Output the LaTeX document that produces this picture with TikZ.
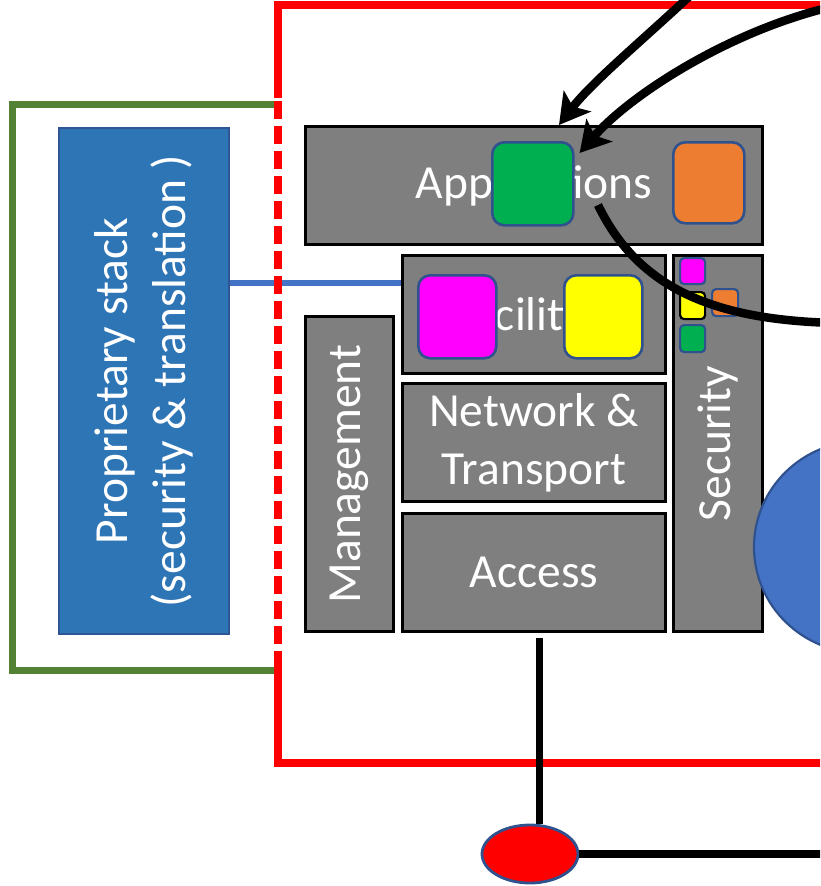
\documentclass[tikz,border=0pt]{standalone}
\usepackage{fontspec}
\setmainfont{Carlito}
\usetikzlibrary{shapes.geometric,arrows.meta}

\definecolor{layergray}{HTML}{7F7F7F}
\definecolor{propblue}{HTML}{2E75B6}
\definecolor{propedge}{HTML}{2F5597}
\definecolor{linkblue}{HTML}{4472C4}
\definecolor{framegreen}{HTML}{548235}
\definecolor{chipedge}{HTML}{2F528F}
\definecolor{chipgreen}{HTML}{00B050}
\definecolor{chiporange}{HTML}{ED7D31}
\definecolor{chipmagenta}{HTML}{FF00FF}
\definecolor{chipyellow}{HTML}{FFFF00}

\tikzset{
  bigfont/.style={font=\fontsize{47.5}{58}\selectfont},
  layer/.style={draw=black, line width=3pt, fill=layergray, text=white,
    inner sep=0pt, anchor=north west, bigfont, align=center},
  label/.style={text=white, bigfont, align=center, inner sep=0pt},
  chip/.style={draw=chipedge, line width=2.6pt, rounded corners=12pt,
    anchor=north west, inner sep=0pt},
  minichip/.style={chip, rounded corners=4pt, line width=2.2pt},
  redline/.style={draw=red, line width=7.5pt},
  flow/.style={draw=black, line width=8.5pt},
  flowtip/.style={flow, -{Stealth[length=30pt,width=34pt,inset=7pt]}},
}

\begin{document}
\begin{tikzpicture}[x=1pt,y=-1pt]
\useasboundingbox (0,0) rectangle (820,886);
\clip (0,0) rectangle (820,886);

% proprietary stack and its green enclosure
\node[draw=propedge, line width=2.2pt, fill=propblue, minimum width=170,
      minimum height=506, anchor=north west] (prop) at (58,127) {};
\node[label, rotate=90] at (prop.center)
  {Proprietary stack\\(security \& translation )};
\draw[framegreen, line width=7pt] (278,104) -- (12,104) -- (12,670) -- (278,670);

% link from proprietary stack to the facilities layer
\coordinate (tap) at (401,283);
\draw[linkblue, line width=5.5pt] (prop.east |- tap) -- (tap);

% red station boundary
\draw[redline] (278,98) -- (278,5) -- (830,5);
\draw[redline, dash pattern=on 18pt off 7pt] (278,101) -- (278,660);
\draw[redline] (278,660) -- (278,763) -- (830,763);

% layered architecture
\node[layer, minimum width=457, minimum height=118] (apps) at (304,125) {Applications};
\node[layer, minimum width=263, minimum height=118] (fac) at (401,254) {Facilities};
\node[layer, minimum width=263, minimum height=118] (net) at (401,382) {Network \&\\Transport};
\node[layer, minimum width=263, minimum height=118] (acc) at (401,512) {Access};
\node[layer, minimum width=88, minimum height=315] (mgmt) at (304,315) {};
\node[label, rotate=90] at (mgmt.center) {Management};
\node[layer, minimum width=89, minimum height=376] (sec) at (672,254) {};
\node[label, rotate=90] at (sec.center) {Security};

% application chips
\node[chip, fill=chipgreen, minimum width=81, minimum height=83] (appg) at (491,141) {};
\node[chip, fill=chiporange, minimum width=71, minimum height=81] (appo) at (672,141) {};
% facilities chips
\node[chip, fill=chipmagenta, minimum width=78, minimum height=83] (facm) at (417,274) {};
\node[chip, fill=chipyellow, minimum width=78, minimum height=83] (facy) at (563,274) {};
% security chips
\node[minichip, fill=chipmagenta, minimum width=25, minimum height=26] (secm) at (679,257) {};
\node[minichip, draw=black, fill=chipyellow, minimum width=25, minimum height=27] (secy) at (679,291) {};
\node[minichip, fill=chiporange, minimum width=26, minimum height=27] (seco) at (711,288) {};
\node[minichip, fill=chipgreen, minimum width=25, minimum height=27] (secg) at (679,324) {};

% neighbouring elements
\node[ellipse, draw=chipedge, line width=2.2pt, fill=linkblue,
      minimum width=216, minimum height=212] (peer) at (862,547) {};
\node[ellipse, draw=chipedge, line width=2.8pt, fill=red,
      minimum width=96, minimum height=58] (node) at (530,854) {};

% access to the medium
\draw[black, line width=7pt] ([xshift=5.5pt,yshift=-5pt]acc.south) -- ([xshift=5.5pt]acc.south |- node.north);
\coordinate (busend) at (830,854);
\draw[black, line width=7.5pt] (node.east) -- (busend);

% message flows
\coordinate (in1) at (694,-8);
\coordinate (in2) at (835,6);
\coordinate (out1) at (835,323);
\draw[flowtip] (in1) .. controls (645,38) and (592,82) .. ([xshift=25pt]apps.north);
\draw[flowtip] (in2) .. controls (730,30) and (630,95) .. ([shift={(5,12)}]appg.north east);
\draw[flow] (598,205) .. controls (640,292) and (720,320) .. (out1);
\end{tikzpicture}
\end{document}
